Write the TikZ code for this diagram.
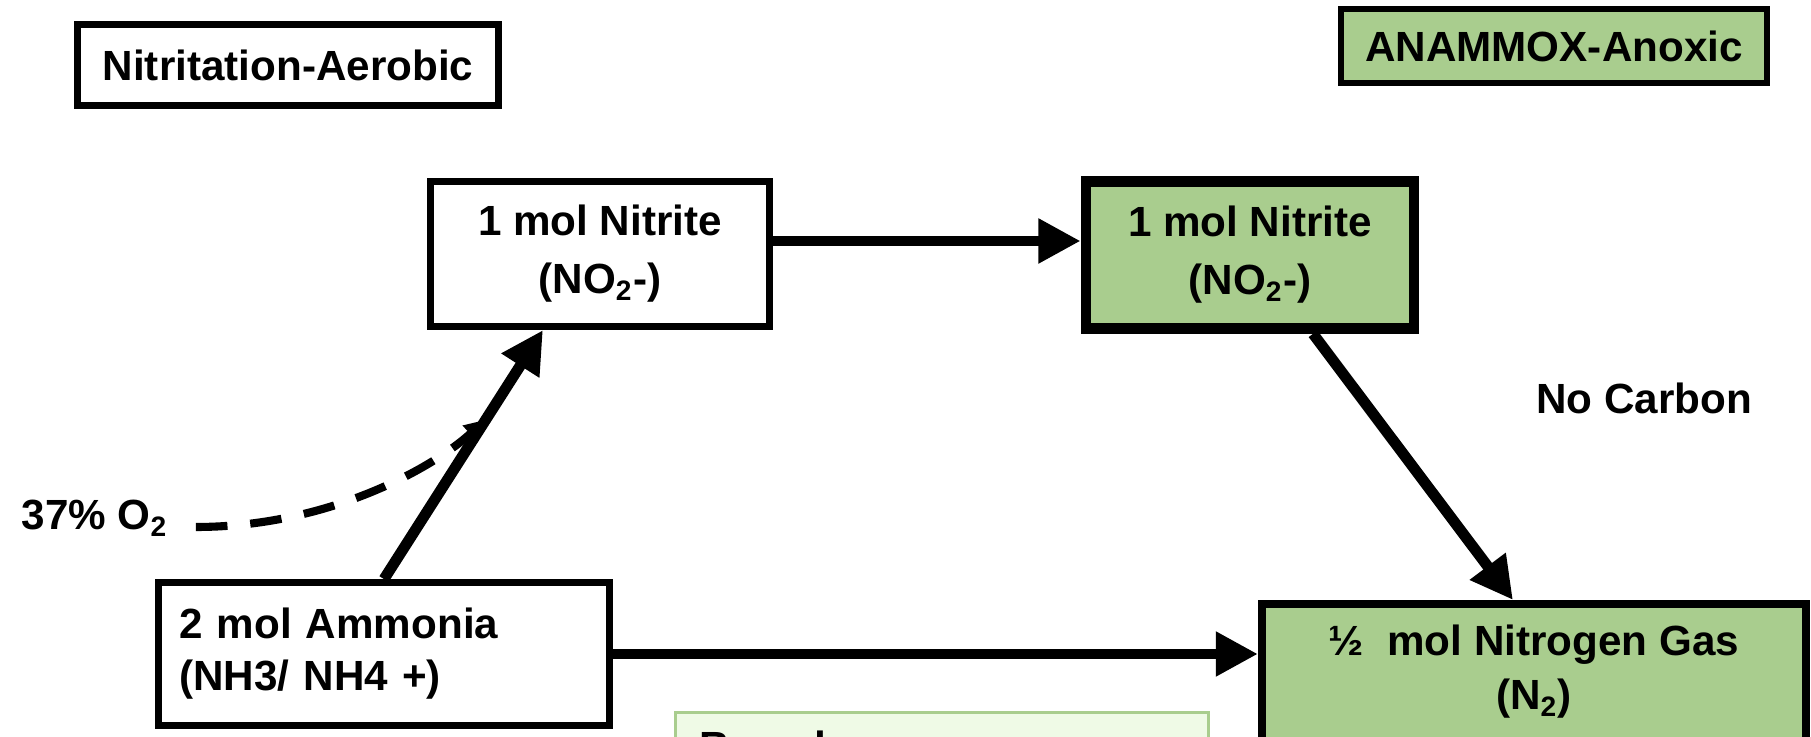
\documentclass[tikz,border=0pt]{standalone}
\usepackage{fontspec}
\setmainfont{Liberation Sans}
\usepackage{xcolor}
\definecolor{anxgreen}{RGB}{169,205,142}
\definecolor{basedgreen}{RGB}{239,250,230}
\usepackage{tikz}
\usetikzlibrary{arrows.meta,calc}

\begin{document}
\begin{tikzpicture}[
  x=0.01cm, y=-0.01cm,
  font=\fontsize{12}{16.5}\selectfont\bfseries,
  box/.style={draw, line width=1.9pt, inner sep=0pt, align=center, fill=white},
  gbox/.style={box, fill=anxgreen},
  arrow/.style={-{Triangle[length=12pt,width=12pt]}, line width=3.1pt},
  dline/.style={-{Triangle[length=6pt,width=6pt]}, line width=2.3pt, dash pattern=on 9pt off 6.5pt}]

  \useasboundingbox (0,0) rectangle (1811,737);
  \clip (0,0) rectangle (1811,737);

  % --- stage titles ---
  \node[box, minimum width=4.21cm, minimum height=0.81cm] (aer) at (288,65) {Nitritation-Aerobic};
  \node[gbox, minimum width=4.26cm, minimum height=0.74cm] (anx) at (1554,46) {ANAMMOX-Anoxic};

  % --- nitrite (row 1) ---
  \node[box, line width=2pt, minimum width=3.39cm, minimum height=1.45cm] (nit1) at (600,254)
    {1 mol Nitrite\\(NO\textsubscript{2}-)};
  \node[gbox, line width=3pt, minimum width=3.28cm, minimum height=1.47cm] (nit2) at (1250,255)
    {1 mol Nitrite\\(NO\textsubscript{2}-)};

  % --- ammonia + nitrogen gas (row 2) ---
  \node[box, text width=4.09cm, align=left, inner xsep=0.21cm, minimum height=1.43cm,
        font=\fontsize{12}{14.8}\selectfont\bfseries] (amm) at (384,654)
    {2 mol Ammonia\\(NH3/ NH4 +)};
  \node[gbox, line width=2.2pt, anchor=north, minimum width=5.44cm, inner ysep=0.1cm,
        text height=0.96cm, text depth=0.84cm, font=\fontsize{12}{15.6}\selectfont\bfseries] (n2gas) at (1534,600)
    {½~ mol Nitrogen Gas\\(N\textsubscript{2})};
  \node[draw=anxgreen, line width=0.8pt, fill=basedgreen, anchor=north, text width=4.85cm, align=left,
        inner xsep=0.24cm, inner ysep=0.1cm, text height=0.39cm, text depth=0.5cm] (based) at (942,711)
    {Based};

  % --- side labels ---
  \node[inner sep=0pt] (nocarb) at (1644,398) {No Carbon};
  \node[inner sep=0pt, anchor=base west] (oxy) at (21,530) {37\% O\textsubscript{2}};

  % --- flows ---
  \coordinate (o2in) at ($(amm.north)!0.64!([xshift=-0.57cm]nit1.south)$);
  \draw[dline] ([shift={(0.27cm,0.03cm)}]oxy.base east) .. controls +(1.3cm,0) and +(-0.55cm,-0.5cm) .. (o2in);
  \draw[arrow] (amm.north) -- ([xshift=-0.57cm]nit1.south);
  \draw[arrow] ([yshift=0.13cm]nit1.east) -- ([yshift=0.13cm]nit1.east -| nit2.west);
  \draw[arrow] ([xshift=0.63cm]nit2.south) -- ([xshift=-0.21cm]n2gas.north);
  \draw[arrow] (amm.east) -- (amm.east -| n2gas.west);
\end{tikzpicture}
\end{document}
